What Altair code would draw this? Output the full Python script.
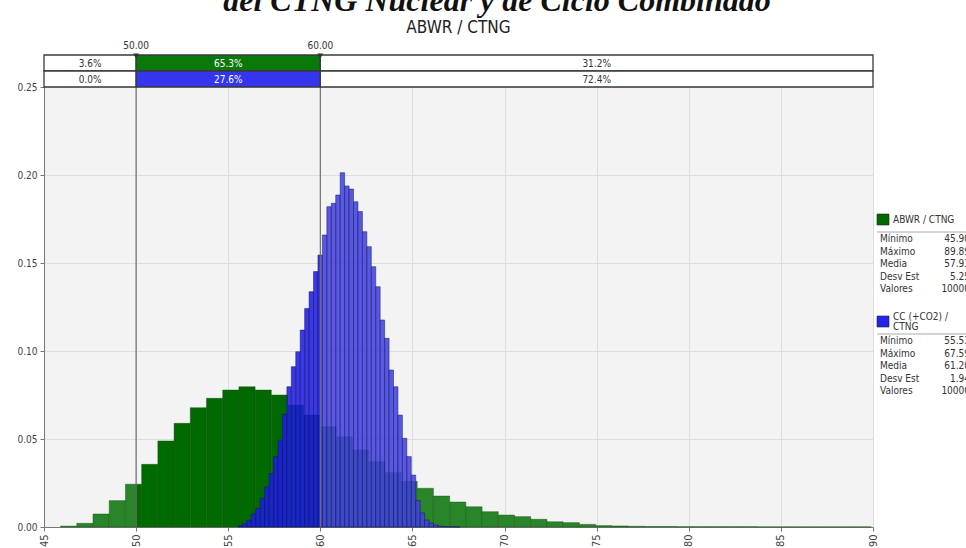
import altair as alt
import pandas as pd

# ---------------- data ----------------
abwr_bin_start = 45.9
abwr_bin_width = 0.88
abwr_density = [0.0005, 0.0021, 0.0074, 0.0150, 0.0243, 0.0356, 0.0489, 0.0589, 0.0678, 0.0731,
                0.0778, 0.0797, 0.0778, 0.0750, 0.0693, 0.0636, 0.0570, 0.0513, 0.0437, 0.0371,
                0.0310, 0.0260, 0.0220, 0.0176, 0.0142, 0.0115, 0.0087, 0.0068, 0.0059, 0.0044,
                0.0030, 0.0025, 0.0015, 0.0008, 0.0006, 0.0004, 0.0003, 0.0003, 0.0002, 0.0002,
                0.0002, 0.0002, 0.0002, 0.0001, 0.0001, 0.0001, 0.0001, 0.0001, 0.0001, 0.0001]

cc_bin_start = 55.53
cc_bin_width = 0.2412
cc_density = [0.0008, 0.0019, 0.0040, 0.0074, 0.0106, 0.0163, 0.0229, 0.0305, 0.0400, 0.0494,
              0.0640, 0.0797, 0.0911, 0.0996, 0.1119, 0.1242, 0.1337, 0.1451, 0.1545, 0.1659,
              0.1820, 0.1839, 0.1886, 0.2013, 0.1938, 0.1920, 0.1848, 0.1792, 0.1678, 0.1593,
              0.1479, 0.1365, 0.1176, 0.1072, 0.0892, 0.0797, 0.0636, 0.0504, 0.0400, 0.0295,
              0.0150, 0.0080, 0.0040, 0.0023, 0.0012, 0.0006, 0.0003, 0.0002, 0.0001, 0.0001]

lower_limit = 50.0
upper_limit = 60.0
limit_labels = ["50.00", "60.00"]
abwr_band_pcts = ["3.6%", "65.3%", "31.2%"]
cc_band_pcts = ["0.0%", "27.6%", "72.4%"]

stat_names = ["Mínimo", "Máximo", "Media", "Desv Est", "Valores"]
abwr_stats = ["45.90", "89.89", "57.93", "5.25", "10000"]
cc_stats = ["55.53", "67.59", "61.20", "1.94", "10000"]

x_ticks = [45, 50, 55, 60, 65, 70, 75, 80, 85, 90]
y_ticks = [0.0, 0.05, 0.10, 0.15, 0.20, 0.25]

chart_title = "ABWR / CTNG"
slide_title = "del CTNG Nuclear y de Ciclo Combinado"
abwr_name = ["ABWR / CTNG"]
cc_name_lines = ["CC (+CO2) /", "CTNG"]

# ---------------- styling ----------------
FONT = "'Liberation Sans Narrow', 'DejaVu Sans Condensed', 'Liberation Sans', sans-serif"
GREEN_IN, GREEN_OUT = "#006a00", "#2a852a"
BLUE_IN, BLUE_OUT = "#1c1ce2", "#4040dc"
X_MIN, X_MAX = 45, 90
W, H = 829, 440

x_scale = alt.Scale(domain=[X_MIN, X_MAX], nice=False, zero=False)
y_scale = alt.Scale(domain=[0, 0.25], nice=False, zero=True)
x_axis = alt.Axis(values=x_ticks, labelAngle=270, format="d", title=None,
                  grid=True, gridColor="#dddddd", labelFontSize=11,
                  labelPadding=3, tickSize=4)
y_axis = alt.Axis(values=y_ticks, format=".2f", title=None, grid=True,
                  gridColor="#dddddd", labelFontSize=10, tickSize=4, labelPadding=3)


def segments(start, width, dens, col_in, col_out):
    rows = []
    for i, d in enumerate(dens):
        a = start + i * width
        b = a + width
        cuts = [a] + [c for c in (lower_limit, upper_limit) if a < c < b] + [b]
        for lo, hi in zip(cuts[:-1], cuts[1:]):
            inside = lower_limit <= (lo + hi) / 2 <= upper_limit
            rows.append({"x0": lo, "x1": hi, "d": d, "y0": 0.0,
                         "fill": col_in if inside else col_out})
    return pd.DataFrame(rows)


green_df = segments(abwr_bin_start, abwr_bin_width, abwr_density, GREEN_IN, GREEN_OUT)
blue_df = segments(cc_bin_start, cc_bin_width, cc_density, BLUE_IN, BLUE_OUT)

green = alt.Chart(green_df).mark_rect(stroke="#0d4d0d", strokeWidth=0.4).encode(
    x=alt.X("x0:Q", scale=x_scale, axis=x_axis),
    x2="x1:Q",
    y=alt.Y("d:Q", scale=y_scale, axis=y_axis),
    y2="y0:Q",
    fill=alt.Fill("fill:N", scale=None),
)

blue = alt.Chart(blue_df).mark_rect(stroke="#14146a", strokeWidth=0.5, fillOpacity=0.87).encode(
    x=alt.X("x0:Q", scale=x_scale, axis=x_axis),
    x2="x1:Q",
    y=alt.Y("d:Q", scale=y_scale, axis=y_axis),
    y2="y0:Q",
    fill=alt.Fill("fill:N", scale=None),
)

limits_df = pd.DataFrame({"v": [lower_limit, upper_limit], "lab": limit_labels})

limit_rules = alt.Chart(limits_df).mark_rule(color="#707070", strokeWidth=1.2).encode(
    x=alt.X("v:Q", scale=x_scale, axis=x_axis),
    y=alt.value(-32), y2=alt.value(H),
)

limit_marks = alt.Chart(limits_df).mark_point(shape="triangle-down", filled=True,
                                              size=35, color="#333333", opacity=1).encode(
    x=alt.X("v:Q", scale=x_scale, axis=x_axis), y=alt.value(-31))

limit_text = alt.Chart(limits_df).mark_text(fontSize=10, font=FONT, color="#333333",
                                            baseline="middle").encode(
    x=alt.X("v:Q", scale=x_scale, axis=x_axis), y=alt.value(-41), text="lab:N")


def band(pcts, col, ytop, ybot):
    df = pd.DataFrame({
        "x0": [X_MIN, lower_limit, upper_limit],
        "x1": [lower_limit, upper_limit, X_MAX],
        "pct": pcts,
        "fill": ["#ffffff", col, "#ffffff"],
        "tc": ["#333333", "#ffffff", "#333333"],
    })
    rect = alt.Chart(df).mark_rect(stroke="#3a3a3a", strokeWidth=1.3).encode(
        x=alt.X("x0:Q", scale=x_scale, axis=x_axis), x2="x1:Q",
        y=alt.value(ytop), y2=alt.value(ybot),
        fill=alt.Fill("fill:N", scale=None))
    txt = alt.Chart(df).transform_calculate(xm="(datum.x0 + datum.x1) / 2").mark_text(
        fontSize=10, font=FONT, baseline="middle").encode(
        x=alt.X("xm:Q", scale=x_scale, axis=x_axis),
        y=alt.value((ytop + ybot) / 2 + 0.5),
        text="pct:N",
        color=alt.Color("tc:N", scale=None))
    return [rect, txt]


band_layers = band(abwr_band_pcts, "#0a780a", -32, -16) + band(cc_band_pcts, "#3535ee", -16, 0)

one = pd.DataFrame({"a": [0]})

title = alt.Chart(one).mark_text(fontSize=17, font=FONT, color="#222222",
                                 baseline="middle", text=chart_title).encode(
    x=alt.value(W / 2), y=alt.value(-59))

slide = alt.Chart(one).mark_text(fontSize=32, font="Liberation Serif", fontStyle="italic",
                                 fontWeight="bold", color="#111111",
                                 baseline="alphabetic", text=slide_title).encode(
    x=alt.value(453), y=alt.value(-76))

# ---------------- legend ----------------
LX = W + 4


def legend_block(color, name_lines, stats, top):
    sw = alt.Chart(one).mark_rect(stroke="#222222", strokeWidth=0.6, fill=color).encode(
        x=alt.value(LX), x2=alt.value(LX + 12),
        y=alt.value(top), y2=alt.value(top + 11))
    n = len(name_lines)
    name = alt.Chart(one).mark_text(
        align="left", baseline="middle", fontSize=10, font=FONT, color="#333333",
        lineHeight=10, text=name_lines if n > 1 else name_lines[0]).encode(
        x=alt.value(LX + 16), y=alt.value(top + 5.5 - (n - 1) * 5))
    line_y = top + 18
    sep = alt.Chart(one).mark_rule(color="#aaaaaa", strokeWidth=1).encode(
        x=alt.value(LX), x2=alt.value(W + 93), y=alt.value(line_y))
    labs = alt.Chart(one).mark_text(
        align="left", baseline="top", fontSize=10, font=FONT, color="#333333",
        lineHeight=12.5, text=stat_names).encode(
        x=alt.value(LX + 3), y=alt.value(line_y + 2))
    vals = alt.Chart(one).mark_text(
        align="right", baseline="top", fontSize=10, font=FONT, color="#333333",
        lineHeight=12.5, text=stats).encode(
        x=alt.value(W + 97), y=alt.value(line_y + 2))
    return [sw, name, sep, labs, vals]


legend_layers = legend_block("#006a00", abwr_name, abwr_stats, 127) + \
    legend_block("#2424ea", cc_name_lines, cc_stats, 229)

chart = alt.layer(
    green, blue, limit_rules, *band_layers, limit_marks, limit_text, title, slide,
    *legend_layers
).properties(
    width=W, height=H,
    autosize=alt.AutoSizeParams(type="none"),
    padding={"left": 44, "top": 87, "right": 93, "bottom": 21},
    background="#ffffff",
).configure_view(
    fill="#f3f3f3", stroke=None
).configure_axis(
    labelFont=FONT, labelColor="#444444", domainColor="#777777", tickColor="#777777",
)

chart.save("out.html", embed_options={"renderer": "svg", "actions": False})
